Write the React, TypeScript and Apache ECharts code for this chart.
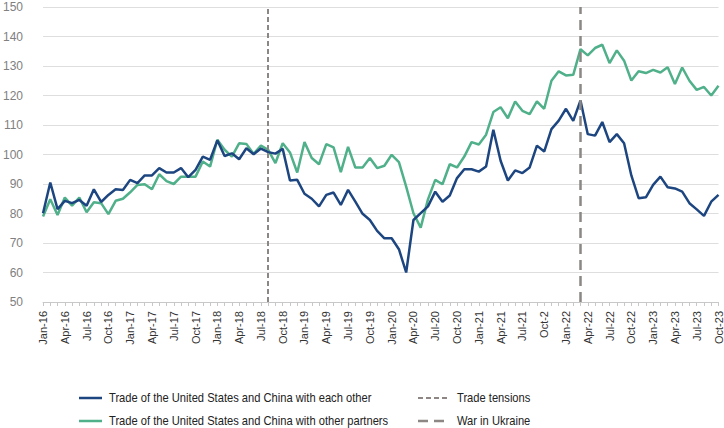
import React, { useEffect, useRef } from "react";
import * as echarts from "echarts";

const categories = [
  "Jan-16","Feb-16","Mar-16","Apr-16","May-16","Jun-16","Jul-16","Aug-16","Sep-16","Oct-16","Nov-16","Dec-16",
  "Jan-17","Feb-17","Mar-17","Apr-17","May-17","Jun-17","Jul-17","Aug-17","Sep-17","Oct-17","Nov-17","Dec-17",
  "Jan-18","Feb-18","Mar-18","Apr-18","May-18","Jun-18","Jul-18","Aug-18","Sep-18","Oct-18","Nov-18","Dec-18",
  "Jan-19","Feb-19","Mar-19","Apr-19","May-19","Jun-19","Jul-19","Aug-19","Sep-19","Oct-19","Nov-19","Dec-19",
  "Jan-20","Feb-20","Mar-20","Apr-20","May-20","Jun-20","Jul-20","Aug-20","Sep-20","Oct-20","Nov-20","Dec-20",
  "Jan-21","Feb-21","Mar-21","Apr-21","May-21","Jun-21","Jul-21","Aug-21","Sep-21","Oct-2","Nov-21","Dec-21",
  "Jan-22","Feb-22","Mar-22","Apr-22","May-22","Jun-22","Jul-22","Aug-22","Sep-22","Oct-22","Nov-22","Dec-22",
  "Jan-23","Feb-23","Mar-23","Apr-23","May-23","Jun-23","Jul-23","Aug-23","Sep-23","Oct-23",
];

const eachOther = [
  80.1, 90.5, 81.5, 84.3, 83.5, 84.6, 82.6, 88.2, 83.9, 86.3, 88.2, 88.0,
  91.4, 90.3, 92.9, 92.9, 95.4, 93.9, 93.9, 95.4, 92.3, 94.8, 99.3, 98.2,
  104.8, 99.5, 100.4, 98.4, 102.1, 100.1, 102.0, 100.8, 100.3, 101.9, 91.2, 91.4,
  86.7, 85.0, 82.4, 86.3, 87.1, 82.9, 88.0, 84.0, 79.9, 77.8, 74.1, 71.6,
  71.6, 67.9, 60.0, 77.8, 80.1, 82.4, 87.4, 84.0, 86.1, 92.0, 95.0, 95.0,
  94.2, 95.9, 108.4, 97.9, 91.2, 94.6, 93.7, 95.6, 103.0, 101.0, 108.6, 111.5,
  115.5, 111.4, 118.3, 106.9, 106.4, 111.0, 104.2, 106.9, 103.8, 92.9, 85.2, 85.5,
  89.7, 92.5, 88.9, 88.5, 87.4, 83.5, 81.4, 79.2, 84.0, 86.3,
];

const otherPartners = [
  79.0, 84.8, 79.5, 85.4, 82.7, 85.4, 80.4, 83.8, 83.5, 79.8, 84.3, 85.0,
  87.2, 89.7, 89.9, 88.2, 93.3, 91.0, 90.0, 92.5, 92.5, 92.5, 97.6, 95.9,
  105.0, 101.6, 99.3, 103.8, 103.6, 100.2, 103.0, 101.6, 97.1, 103.8, 100.7, 93.9,
  104.2, 98.8, 96.7, 103.5, 102.4, 94.0, 102.6, 95.6, 95.6, 98.8, 95.4, 96.2,
  99.9, 97.4, 89.1, 80.1, 75.2, 84.8, 91.4, 89.9, 96.7, 95.6, 99.3, 104.2,
  103.4, 106.7, 114.4, 116.0, 112.3, 118.0, 114.8, 113.7, 118.0, 115.5, 125.0, 128.2,
  126.8, 127.0, 135.7, 133.6, 136.1, 137.2, 131.0, 135.3, 131.8, 125.1, 128.2, 127.6,
  128.7, 127.8, 129.6, 123.9, 129.5, 125.0, 121.9, 122.9, 120.0, 123.3,
];

const tradeTensionsAt = "Aug-18";
const warInUkraineAt = "Mar-22";

const seriesNames = [
  "Trade of the United States and China with each other",
  "Trade of the United States and China with other partners",
];
const eventNames = ["Trade tensions", "War in Ukraine"];

const BLUE = "#1d4680";
const GREEN = "#4fb08a";
const GREY = "#8c8684";
const FONT = "Liberation Sans, Arial, sans-serif";

export default function App() {
  const ref = useRef<HTMLDivElement>(null);
  useEffect(() => {
    if (!ref.current) return;
    const chart = echarts.init(ref.current, null, { renderer: "svg" });
    const legendText = (x: number, y: number, text: string) => ({
      type: "text",
      x,
      y,
      scaleX: 0.93,
      style: { text, fill: "#222", font: `12px ${FONT}`, verticalAlign: "middle" },
    });
    const legendLine = (x1: number, x2: number, y: number, stroke: string, lineDash?: number[], lineWidth = 2.5) => ({
      type: "line",
      shape: { x1, y1: y, x2, y2: y },
      style: { stroke, lineWidth, lineDash },
    });
    chart.setOption({
      animation: false,
      textStyle: { fontFamily: FONT },
      grid: { left: 43, right: 4, top: 7, bottom: 126, containLabel: false },
      xAxis: {
        type: "category",
        data: categories,
        boundaryGap: false,
        axisLine: { lineStyle: { color: "#c8c8c8", width: 1 } },
        axisTick: { show: true, interval: 0, length: 4, lineStyle: { color: "#c8c8c8" } },
        axisLabel: { interval: 2, rotate: 90, fontSize: 11, color: "#333", margin: 9, fontFamily: FONT },
        splitLine: { show: false },
      },
      yAxis: {
        type: "value",
        min: 50,
        max: 150,
        interval: 10,
        axisLine: { show: false },
        axisTick: { show: false },
        axisLabel: { fontSize: 12, color: "#808080", margin: 20, fontFamily: FONT },
        splitLine: { lineStyle: { color: "#dedede", width: 1 } },
      },
      series: [
        {
          name: seriesNames[0],
          type: "line",
          data: eachOther,
          symbol: "none",
          lineStyle: { color: BLUE, width: 2.5 },
          itemStyle: { color: BLUE },
          z: 3,
          markLine: {
            silent: true,
            symbol: "none",
            label: { show: false },
            data: [
              { xAxis: tradeTensionsAt, lineStyle: { color: GREY, width: 2, type: [5, 3] } },
              { xAxis: warInUkraineAt, lineStyle: { color: GREY, width: 2.5, type: [10, 6] } },
            ],
          },
        },
        {
          name: seriesNames[1],
          type: "line",
          data: otherPartners,
          symbol: "none",
          lineStyle: { color: GREEN, width: 2.5 },
          itemStyle: { color: GREEN },
          z: 2,
        },
      ],
      graphic: [
        legendLine(79, 102, 398, BLUE),
        legendText(109, 398, seriesNames[0]),
        legendLine(79, 102, 421, GREEN),
        legendText(109, 421, seriesNames[1]),
        legendLine(418, 450, 398, GREY, [5, 3], 2),
        legendText(457, 398, eventNames[0]),
        legendLine(418, 450, 421, GREY, [10, 6], 2.5),
        legendText(457, 421, eventNames[1]),
      ],
    });
    return () => chart.dispose();
  }, []);
  return (
    <div
      ref={ref}
      style={{ position: "absolute", left: 0, top: 0, width: 724, height: 428, background: "#fff" }}
    />
  );
}
